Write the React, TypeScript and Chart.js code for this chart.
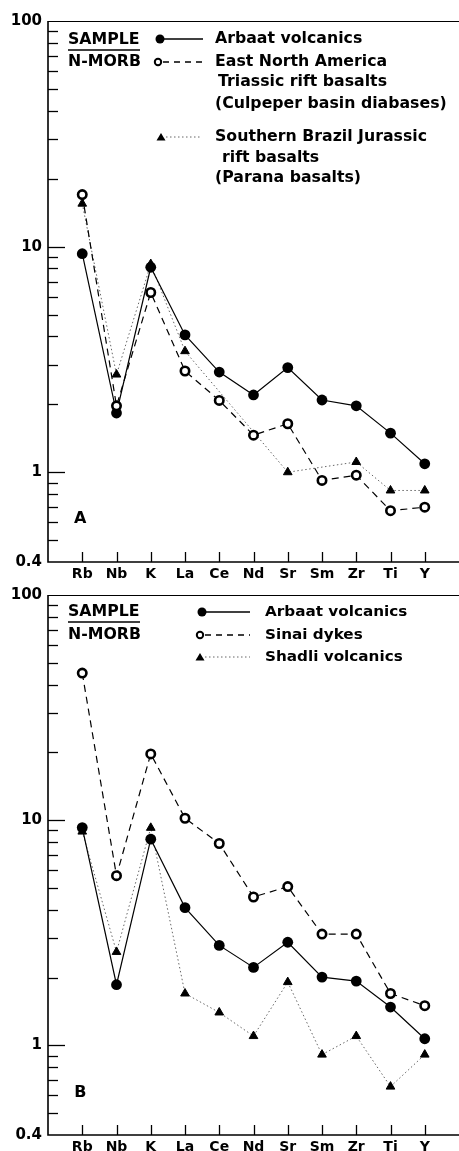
import React, { useEffect, useRef } from "react";
import { Chart, registerables } from "chart.js";

Chart.register(...registerables);

// ---------- data ----------
const elements = ["Rb", "Nb", "K", "La", "Ce", "Nd", "Sr", "Sm", "Zr", "Ti", "Y"];

const arbaatA = [9.3, 1.83, 8.1, 4.06, 2.78, 2.2, 2.91, 2.09, 1.97, 1.49, 1.09];
const enaA = [17.0, 1.97, 6.26, 2.81, 2.08, 1.46, 1.64, 0.92, 0.97, 0.675, 0.7];
const paranaA = [15.5, 2.71, 8.37, 3.44, null, null, 1.0, null, 1.11, 0.83, 0.83];

const arbaatB = [9.27, 1.86, 8.24, 4.09, 2.78, 2.22, 2.87, 2.01, 1.93, 1.48, 1.07];
const sinaiB = [45, 5.67, 19.7, 10.2, 7.88, 4.56, 5.07, 3.12, 3.12, 1.7, 1.5];
const shadliB = [8.9, 2.6, 9.25, 1.7, 1.4, 1.1, 1.91, 0.91, 1.1, 0.656, 0.91];

const yTickValues = [0.4, 0.5, 0.6, 0.7, 0.8, 0.9, 1, 2, 3, 4, 5, 6, 7, 8, 9, 10, 20, 30, 40, 50, 60, 70, 80, 90, 100];
const yLabelValues = [0.4, 1, 10, 100];
const yMajorValues = [1, 10];

const FONT = "'DejaVu Sans', 'Liberation Sans', sans-serif";

type Kind = "filled" | "open" | "triangle";

function makeDataset(label: string, values: (number | null)[], kind: Kind) {
  const data = values.map((v, i) => ({ x: i, y: v }));
  if (kind === "filled") {
    return {
      label, data, order: 1,
      borderColor: "#000", borderWidth: 1.2, borderDash: [],
      pointStyle: "circle", pointRadius: 5.4, pointBackgroundColor: "#000",
      pointBorderColor: "#000", pointBorderWidth: 0, spanGaps: true, tension: 0,
    };
  }
  if (kind === "open") {
    return {
      label, data, order: 0,
      borderColor: "#000", borderWidth: 1.2, borderDash: [7, 5],
      pointStyle: "circle", pointRadius: 4.2, pointBackgroundColor: "#fff",
      pointBorderColor: "#000", pointBorderWidth: 2.6, spanGaps: true, tension: 0,
    };
  }
  return {
    label, data, order: 2,
    borderColor: "#666", borderWidth: 1, borderDash: [1.5, 2.5],
    pointStyle: "triangle", pointRadius: 5, pointBackgroundColor: "#000",
    pointBorderColor: "#000", pointBorderWidth: 1, spanGaps: true, tension: 0,
  };
}

interface LegendEntry {
  kind: Kind;
  mx: number;
  lx1: number;
  lx2: number;
  y: number;
  lines: { text: string; x: number; y: number }[];
}

interface PanelSpec {
  top: number;
  height: number;
  areaTop: number;
  areaBottom: number;
  letter: string;
  letterValue: number;
  textSize: number;
  datasets: any[];
  frac: { x: number; sampleY: number; barY: number; morbY: number };
  legend: LegendEntry[];
}

const TEXT_SX = 1.05;

function drawText(ctx: CanvasRenderingContext2D, text: string, x: number, y: number, size: number) {
  ctx.save();
  ctx.font = `bold ${size}px ${FONT}`;
  ctx.fillStyle = "#000";
  ctx.textBaseline = "middle";
  ctx.textAlign = "left";
  ctx.translate(x, y);
  ctx.scale(TEXT_SX, 1);
  ctx.fillText(text, 0, 0);
  ctx.restore();
}

function drawMarker(ctx: CanvasRenderingContext2D, kind: Kind, x: number, y: number) {
  ctx.save();
  ctx.setLineDash([]);
  if (kind === "filled") {
    ctx.fillStyle = "#000";
    ctx.beginPath();
    ctx.arc(x, y, 4.5, 0, Math.PI * 2);
    ctx.fill();
  } else if (kind === "open") {
    ctx.fillStyle = "#fff";
    ctx.strokeStyle = "#000";
    ctx.lineWidth = 2;
    ctx.beginPath();
    ctx.arc(x, y, 3.2, 0, Math.PI * 2);
    ctx.fill();
    ctx.stroke();
  } else {
    ctx.fillStyle = "#000";
    ctx.beginPath();
    ctx.moveTo(x, y - 4);
    ctx.lineTo(x + 4.5, y + 3.5);
    ctx.lineTo(x - 4.5, y + 3.5);
    ctx.closePath();
    ctx.fill();
  }
  ctx.restore();
}

function lineStyle(ctx: CanvasRenderingContext2D, kind: Kind) {
  if (kind === "filled") {
    ctx.strokeStyle = "#000"; ctx.lineWidth = 1.3; ctx.setLineDash([]);
  } else if (kind === "open") {
    ctx.strokeStyle = "#000"; ctx.lineWidth = 1.3; ctx.setLineDash([6, 5]);
  } else {
    ctx.strokeStyle = "#666"; ctx.lineWidth = 1; ctx.setLineDash([1.5, 2.5]);
  }
}

function makeOverlay(spec: PanelSpec) {
  return {
    id: "overlay" + spec.letter,
    afterDraw(chart: any) {
      const ctx: CanvasRenderingContext2D = chart.ctx;
      const { left, right, top, bottom } = chart.chartArea;
      const xs = chart.scales.x;
      const ys = chart.scales.y;
      ctx.save();
      ctx.strokeStyle = "#000";
      ctx.setLineDash([]);
      // frame
      ctx.lineWidth = 1.6;
      ctx.beginPath();
      ctx.moveTo(left, top);
      ctx.lineTo(left, bottom);
      ctx.lineTo(right, bottom);
      ctx.stroke();
      ctx.lineWidth = 1;
      ctx.beginPath();
      ctx.moveTo(left, top + 0.5);
      ctx.lineTo(right, top + 0.5);
      ctx.stroke();
      // y ticks (inward)
      ctx.lineWidth = 1.3;
      yTickValues.forEach((v) => {
        if (v === 0.4 || v === 100) return;
        const py = Math.round(ys.getPixelForValue(v)) + 0.5;
        const len = yMajorValues.includes(v) ? 17 : 10;
        ctx.beginPath();
        ctx.moveTo(left, py);
        ctx.lineTo(left + len, py);
        ctx.stroke();
      });
      // x ticks (inward)
      elements.forEach((_, i) => {
        const px = Math.round(xs.getPixelForValue(i)) + 0.5;
        ctx.beginPath();
        ctx.moveTo(px, bottom);
        ctx.lineTo(px, bottom - 10);
        ctx.stroke();
      });
      ctx.restore();

      // panel letter
      ctx.save();
      ctx.font = `bold 16px ${FONT}`;
      ctx.fillStyle = "#000";
      ctx.textAlign = "center";
      ctx.textBaseline = "middle";
      ctx.fillText(spec.letter, xs.getPixelForValue(0) - 2, ys.getPixelForValue(spec.letterValue));
      ctx.restore();

      // SAMPLE / N-MORB
      drawText(ctx, "SAMPLE", spec.frac.x, spec.frac.sampleY, 15);
      drawText(ctx, "N-MORB", spec.frac.x, spec.frac.morbY, 15);
      ctx.save();
      ctx.strokeStyle = "#000";
      ctx.lineWidth = 1.3;
      ctx.beginPath();
      ctx.moveTo(spec.frac.x, spec.frac.barY);
      ctx.lineTo(spec.frac.x + 72, spec.frac.barY);
      ctx.stroke();
      ctx.restore();

      // legend entries
      spec.legend.forEach((e) => {
        ctx.save();
        lineStyle(ctx, e.kind);
        ctx.beginPath();
        ctx.moveTo(e.lx1, e.y);
        ctx.lineTo(e.lx2, e.y);
        ctx.stroke();
        ctx.restore();
        drawMarker(ctx, e.kind, e.mx, e.y);
        e.lines.forEach((l) => drawText(ctx, l.text, l.x, l.y, spec.textSize));
      });
    },
  };
}

const panelA: PanelSpec = {
  top: 0,
  height: 580,
  areaTop: 21,
  areaBottom: 562,
  letter: "A",
  letterValue: 0.62,
  textSize: 15,
  datasets: [
    makeDataset("Arbaat volcanics", arbaatA, "filled"),
    makeDataset("East North America Triassic rift basalts", enaA, "open"),
    makeDataset("Southern Brazil Jurassic rift basalts", paranaA, "triangle"),
  ],
  frac: { x: 68, sampleY: 40, barY: 50, morbY: 62 },
  legend: [
    { kind: "filled", mx: 160, lx1: 160, lx2: 203, y: 39, lines: [{ text: "Arbaat volcanics", x: 215, y: 39 }] },
    {
      kind: "open", mx: 158, lx1: 163, lx2: 203, y: 62,
      lines: [
        { text: "East North America", x: 215, y: 62 },
        { text: "Triassic rift basalts", x: 218, y: 82 },
        { text: "(Culpeper basin diabases)", x: 215, y: 104 },
      ],
    },
    {
      kind: "triangle", mx: 161, lx1: 166, lx2: 200, y: 137,
      lines: [
        { text: "Southern Brazil Jurassic", x: 215, y: 137 },
        { text: "rift basalts", x: 222, y: 158 },
        { text: "(Parana basalts)", x: 215, y: 178 },
      ],
    },
  ],
};

const panelB: PanelSpec = {
  top: 580,
  height: 571,
  areaTop: 13,
  areaBottom: 555,
  letter: "B",
  letterValue: 0.615,
  textSize: 14.5,
  datasets: [
    makeDataset("Arbaat volcanics", arbaatB, "filled"),
    makeDataset("Sinai dykes", sinaiB, "open"),
    makeDataset("Shadli volcanics", shadliB, "triangle"),
  ],
  frac: { x: 68, sampleY: 32, barY: 42, morbY: 55 },
  legend: [
    { kind: "filled", mx: 202, lx1: 202, lx2: 250, y: 32, lines: [{ text: "Arbaat volcanics", x: 265, y: 32 }] },
    { kind: "open", mx: 200, lx1: 205, lx2: 250, y: 55, lines: [{ text: "Sinai dykes", x: 265, y: 55 }] },
    { kind: "triangle", mx: 200, lx1: 205, lx2: 250, y: 77, lines: [{ text: "Shadli volcanics", x: 265, y: 77 }] },
  ],
};

function Panel({ spec }: { spec: PanelSpec }) {
  const ref = useRef<HTMLCanvasElement | null>(null);
  useEffect(() => {
    if (!ref.current) return;
    const chart = new Chart(ref.current, {
      type: "line",
      data: { datasets: spec.datasets as any },
      options: {
        animation: false,
        responsive: false,
        devicePixelRatio: 1,
        layout: { autoPadding: false, padding: { top: spec.areaTop, left: 0, right: 0, bottom: 0 } },
        plugins: { legend: { display: false }, tooltip: { enabled: false } },
        scales: {
          x: {
            type: "linear",
            min: -1,
            max: 11,
            border: { display: false },
            grid: { display: false, drawTicks: false },
            afterBuildTicks: (scale: any) => {
              scale.ticks = elements.map((_, i) => ({ value: i }));
            },
            afterFit: (scale: any) => {
              scale.height = spec.height - spec.areaBottom;
            },
            ticks: {
              autoSkip: false,
              maxRotation: 0,
              padding: 4,
              color: "#000",
              font: { family: FONT, size: 14, weight: "bold" },
              callback: (v: any) => elements[Math.round(Number(v))] ?? "",
            },
          },
          y: {
            type: "logarithmic",
            min: 0.4,
            max: 100,
            border: { display: false },
            grid: { display: false, drawTicks: false },
            afterBuildTicks: (scale: any) => {
              scale.ticks = yTickValues.map((v) => ({ value: v }));
            },
            afterFit: (scale: any) => {
              scale.width = 48;
            },
            ticks: {
              autoSkip: false,
              padding: 6,
              color: "#000",
              font: { family: FONT, size: 15, weight: "bold" },
              callback: (v: any) => (yLabelValues.includes(Number(v)) ? String(v) : ""),
            },
          },
        },
      },
      plugins: [makeOverlay(spec)],
    } as any);
    return () => chart.destroy();
  }, [spec]);
  return (
    <canvas
      ref={ref}
      width={459}
      height={spec.height}
      style={{ position: "absolute", left: 0, top: spec.top, width: 459, height: spec.height }}
    />
  );
}

export default function App() {
  return (
    <div style={{ position: "absolute", left: 0, top: 0, width: 459, height: 1151, background: "#fff" }}>
      <Panel spec={panelA} />
      <Panel spec={panelB} />
    </div>
  );
}
